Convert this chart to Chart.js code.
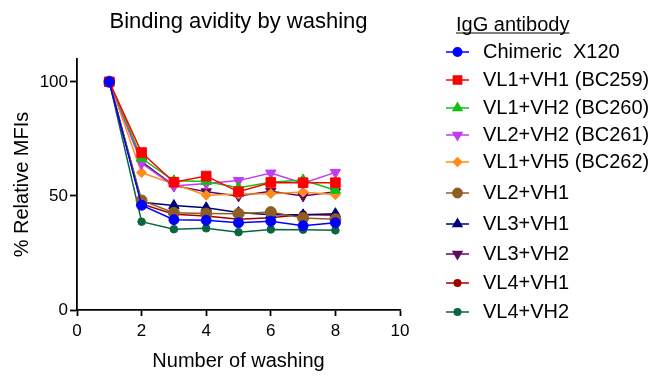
<!DOCTYPE html>
<html><head><meta charset="utf-8">
<script src="https://cdn.jsdelivr.net/npm/chart.js@4.4.1/dist/chart.umd.min.js"></script>
<style>html,body{margin:0;padding:0;background:#fff}canvas{display:block}</style>
</head><body>
<canvas id="c" width="656" height="376"></canvas>
<script>
// ---- data ----
const washes = [1, 2, 3, 4, 5, 6, 7, 8];
const seriesNames = ['Chimeric  X120', 'VL1+VH1 (BC259)', 'VL1+VH2 (BC260)', 'VL2+VH2 (BC261)', 'VL1+VH5 (BC262)',
  'VL2+VH1', 'VL3+VH1', 'VL3+VH2', 'VL4+VH1', 'VL4+VH2'];
const chimericX120 = [100, 45.9, 39.6, 39.3, 38.2, 38.9, 36.9, 38.2];
const vl1vh1 = [100, 69.0, 56.0, 58.7, 51.8, 55.9, 55.8, 55.8];
const vl1vh2 = [100, 66.5, 56.6, 56.3, 53.6, 56.0, 57.0, 52.5];
const vl2vh2 = [100, 64.3, 54.3, 55.4, 56.7, 60.0, 55.6, 60.3];
const vl1vh5 = [100, 60.2, 55.2, 50.3, 50.8, 51.0, 51.7, 50.5];
const vl2vh1 = [100, 48.0, 42.6, 42.3, 42.2, 42.9, 40.3, 39.8];
const vl3vh1 = [100, 47.2, 45.8, 44.8, 42.7, 41.7, 41.7, 42.2];
const vl3vh2 = [100, 65.0, 54.5, 51.8, 50.0, 52.0, 50.0, 51.8];
const vl4vh1 = [100, 46.5, 42.0, 41.2, 39.8, 40.4, 41.8, 41.5];
const vl4vh2 = [100, 38.7, 35.4, 35.8, 34.1, 35.3, 35.2, 34.9];
const seriesValues = [chimericX120, vl1vh1, vl1vh2, vl2vh2, vl1vh5, vl2vh1, vl3vh1, vl3vh2, vl4vh1, vl4vh2];
const xTickValues = [0, 2, 4, 6, 8, 10];
const yTickValues = [0, 50, 100];

// ---- styles ----
const FONT = '"Liberation Sans", Arial, Helvetica, sans-serif';
const styles = [
  {color: '#0000FF', shape: 'circle', r: 5, rot: 0},
  {color: '#FF0000', shape: 'rect', r: 6.8, rot: 0},
  {color: '#10C010', shape: 'triangle', r: 6, rot: 0},
  {color: '#C03CF0', shape: 'triangle', r: 6, rot: 180},
  {color: '#FF8C1A', shape: 'rectRot', r: 5, rot: 0},
  {color: '#8F5E22', shape: 'circle', r: 5.5, rot: 0},
  {color: '#00007F', shape: 'triangle', r: 6, rot: 0},
  {color: '#600A5F', shape: 'triangle', r: 6, rot: 180},
  {color: '#A00000', shape: 'circle', r: 3.8, rot: 0},
  {color: '#0A6640', shape: 'circle', r: 3.8, rot: 0}
];
const legendRowY = [52, 80, 108, 135, 162, 193, 224, 254, 283, 312];

const datasets = seriesNames.map((name, i) => ({
  label: name,
  data: washes.map((x, j) => ({x: x, y: seriesValues[i][j]})),
  borderColor: styles[i].color,
  backgroundColor: styles[i].color,
  borderWidth: 1.5,
  pointStyle: styles[i].shape,
  pointRadius: styles[i].r,
  pointRotation: styles[i].rot,
  pointBorderWidth: 1,
  pointHoverRadius: styles[i].r,
  tension: 0
}));

function drawMarker(ctx, st, x, y, scale) {
  const opts = {pointStyle: st.shape, radius: st.r * scale, rotation: st.rot, borderWidth: 1};
  ctx.fillStyle = st.color; ctx.strokeStyle = st.color;
  if (Chart.helpers && Chart.helpers.drawPoint) {
    Chart.helpers.drawPoint(ctx, opts, x, y);
  } else {
    ctx.beginPath(); ctx.arc(x, y, opts.radius, 0, Math.PI * 2); ctx.fill();
  }
}

const legendPlugin = {
  id: 'customLegend',
  afterDraw(chart) {
    const ctx = chart.ctx;
    ctx.save();
    ctx.font = '20px ' + FONT;
    ctx.fillStyle = '#000';
    ctx.textAlign = 'left';
    ctx.textBaseline = 'alphabetic';
    const title = 'IgG antibody';
    ctx.fillText(title, 456, 30.7);
    const w = ctx.measureText(title).width;
    ctx.strokeStyle = '#000'; ctx.lineWidth = 1;
    ctx.beginPath(); ctx.moveTo(456, 33); ctx.lineTo(456 + w, 33); ctx.stroke();
    chart.data.datasets.forEach((ds, i) => {
      const y = legendRowY[i];
      const st = styles[i];
      ctx.strokeStyle = st.color; ctx.lineWidth = 1.5;
      ctx.beginPath(); ctx.moveTo(446, y); ctx.lineTo(469, y); ctx.stroke();
      drawMarker(ctx, st, 457.5, y, 0.85);
      ctx.fillStyle = '#000';
      ctx.textBaseline = 'middle';
      ctx.font = '20px ' + FONT;
      ctx.fillText(ds.label, 483, y);
    });
    ctx.restore();
  }
};

new Chart(document.getElementById('c'), {
  type: 'line',
  data: {datasets: datasets},
  options: {
    responsive: false,
    animation: false,
    events: [],
    layout: {padding: {left: 0, right: 256, top: 0, bottom: 0}},
    plugins: {
      legend: {display: false},
      tooltip: {enabled: false},
      title: {
        display: true, text: 'Binding avidity by washing', color: '#000', fullSize: false,
        font: {size: 22, family: FONT, weight: 'normal'},
        padding: {top: 9, bottom: 23.6}
      }
    },
    scales: {
      x: {
        type: 'linear', min: 0, max: 10,
        afterBuildTicks: s => { s.ticks = xTickValues.map(v => ({value: v})); },
        afterFit: s => { s.height = 66; },
        grid: {drawOnChartArea: false, drawTicks: true, tickLength: 6, tickWidth: 1.8, tickColor: '#000'},
        border: {color: '#000', width: 1.8},
        ticks: {color: '#000', font: {size: 17, family: FONT}, padding: 5, maxRotation: 0},
        title: {display: true, text: 'Number of washing', color: '#000', font: {size: 20, family: FONT}, padding: {top: 0, bottom: 3}}
      },
      y: {
        type: 'linear', min: 0, max: 110,
        afterBuildTicks: s => { s.ticks = yTickValues.map(v => ({value: v})); },
        afterFit: s => { s.width = 77; },
        grid: {drawOnChartArea: false, drawTicks: true, tickLength: 7, tickWidth: 1.8, tickColor: '#000'},
        border: {color: '#000', width: 1.8},
        ticks: {color: '#000', font: {size: 17, family: FONT}, padding: 2},
        title: {display: true, text: '% Relative MFIs', color: '#000', font: {size: 20, family: FONT}, padding: {top: 10, bottom: 0}}
      }
    }
  },
  plugins: [legendPlugin]
});
</script>
</body></html>
